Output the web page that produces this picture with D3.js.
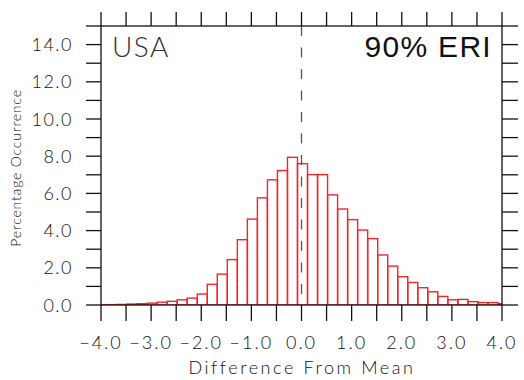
<!DOCTYPE html>
<html><head><meta charset="utf-8">
<script src="https://cdn.jsdelivr.net/npm/d3@7"></script>
<style>body{margin:0;background:#fff}svg{display:block}</style>
</head><body>
<script>
// Bin left edges (width 0.2) and percentage occurrence per bin
const binStart = -4.08;
const binWidth = 0.2;
const values = [0.01,0.02,0.03,0.05,0.07,0.10,0.15,0.20,0.28,0.37,
  0.59,1.11,1.66,2.44,3.51,4.62,5.76,6.73,7.23,7.94,
  7.60,7.01,7.01,5.92,5.16,4.59,4.03,3.57,2.69,2.09,
  1.52,1.21,0.93,0.71,0.46,0.28,0.30,0.18,0.13,0.13,0.07];
const xTickLabels = ["\u22124.0","\u22123.0","\u22122.0","\u22121.0","0.0","1.0","2.0","3.0","4.0"];
const xTickValues = [-4,-3,-2,-1,0,1,2,3,4];
const yTickValues = [0,2,4,6,8,10,12,14];
const yTickLabels = ["0.0","2.0","4.0","6.0","8.0","10.0","12.0","14.0"];
const region = "USA";
const title = "90% ERI";

const W=524,H=380;
const svg=d3.select("body").append("svg").attr("width",W).attr("height",H);
const x=d3.scaleLinear().domain([-4,4]).range([101,502]);
const y=d3.scaleLinear().domain([0,15]).range([305,26]);
const font="'Liberation Sans', Arial, sans-serif";
const thin="Lato, 'Liberation Sans', sans-serif";

svg.append("defs").append("clipPath").attr("id","c").append("rect")
  .attr("x",x(-4)).attr("y",y(15)).attr("width",x(4)-x(-4)).attr("height",y(0)-y(15));

const bins=values.map((v,i)=>({x0:binStart+i*binWidth,x1:binStart+(i+1)*binWidth,v}));
svg.append("g").attr("clip-path","url(#c)").selectAll("rect").data(bins).join("rect")
  .attr("x",d=>x(d.x0)).attr("width",d=>x(d.x1)-x(d.x0))
  .attr("y",d=>y(d.v)).attr("height",d=>y(0)-y(d.v))
  .attr("fill","none").attr("stroke","#f0262a").attr("stroke-width",1.4);

// dashed zero line
svg.append("line").attr("x1",x(0)).attr("x2",x(0)).attr("y1",y(15)).attr("y2",y(0))
  .attr("stroke","#555").attr("stroke-width",1.3).attr("stroke-dasharray","10,11.5");

// minor tick sets
const xt=d3.range(-4,4.001,0.5);
const yt=d3.range(0,15.001,1);
const ax=svg.append("g").attr("stroke","#111").attr("stroke-width",1.3);
xt.forEach(t=>{
  ax.append("line").attr("x1",x(t)).attr("x2",x(t)).attr("y1",y(0)).attr("y2",y(0)+16);
  ax.append("line").attr("x1",x(t)).attr("x2",x(t)).attr("y1",y(15)).attr("y2",y(15)-14);
});
yt.forEach(t=>{
  ax.append("line").attr("x1",x(-4)-15).attr("x2",x(-4)).attr("y1",y(t)).attr("y2",y(t));
  ax.append("line").attr("x1",x(4)).attr("x2",x(4)+16).attr("y1",y(t)).attr("y2",y(t));
});
ax.append("rect").attr("x",x(-4)).attr("y",y(15)).attr("width",x(4)-x(-4)).attr("height",y(0)-y(15)).attr("fill","none");

// tick labels
svg.append("g").selectAll("text").data(xTickValues).join("text")
  .attr("x",d=>x(d)).attr("y",349).attr("text-anchor","middle")
  .attr("font-family",thin).attr("font-weight",300).attr("font-size",18).attr("letter-spacing",2).attr("fill","#111")
  .text((d,i)=>xTickLabels[i]);
svg.append("g").selectAll("text").data(yTickValues).join("text")
  .attr("x",73).attr("y",d=>y(d)+6.5).attr("text-anchor","end")
  .attr("font-family",thin).attr("font-weight",300).attr("font-size",18).attr("letter-spacing",1.5).attr("fill","#111")
  .text((d,i)=>yTickLabels[i]);

// axis titles
svg.append("text").attr("x",302).attr("y",374).attr("text-anchor","middle")
  .attr("font-family",thin).attr("font-weight",300).attr("font-size",18).attr("letter-spacing",2.6).attr("fill","#111")
  .text("Difference From Mean");
svg.append("text").attr("transform","translate(21,168) rotate(-90)").attr("text-anchor","middle")
  .attr("font-family",thin).attr("font-weight",300).attr("font-size",14).attr("letter-spacing",0.8).attr("fill","#111")
  .text("Percentage Occurrence");

// in-plot labels
svg.append("text").attr("x",112).attr("y",57).attr("font-family",thin)
  .attr("font-weight",300).attr("font-size",28).attr("letter-spacing",1.5).attr("fill","#333").text(region);
svg.append("text").attr("x",492).attr("y",57).attr("text-anchor","end")
  .attr("font-family",font).attr("font-size",30).attr("letter-spacing",1.3).attr("fill","#111").text(title);
</script>
</body></html>
